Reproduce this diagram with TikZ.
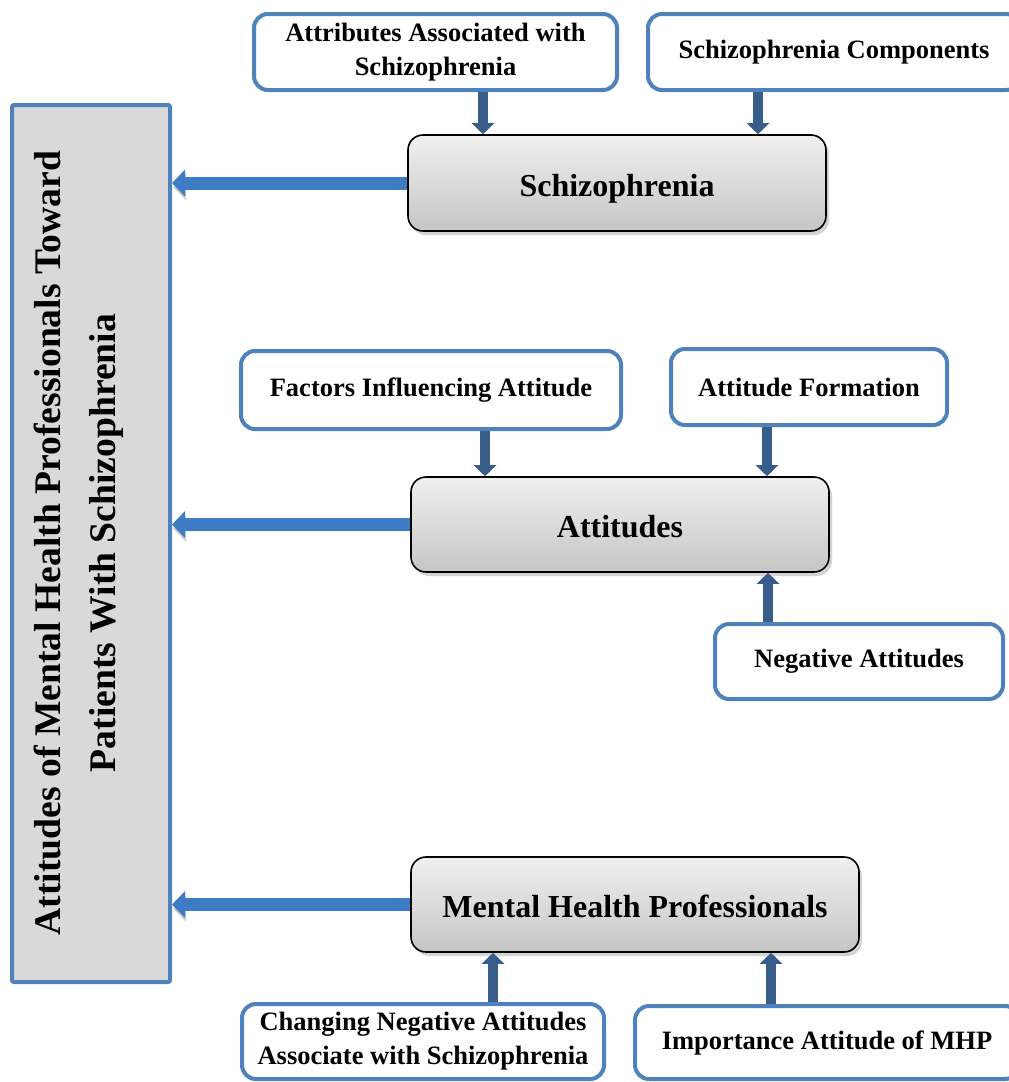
\documentclass[tikz,border=0pt]{standalone}
\usepackage{fontspec}
\setmainfont{Liberation Serif}
\usetikzlibrary{arrows.meta,shadows}
\definecolor{bborder}{HTML}{4F81BD}
\definecolor{sarrow}{HTML}{385D8A}
\definecolor{barrow}{HTML}{3D7BC4}
\definecolor{leftfill}{HTML}{D9D9D9}
\begin{document}
\begin{tikzpicture}[x=1pt,y=-1pt,
  smallbox/.style={draw=bborder,line width=4pt,rounded corners=14pt,fill=white,
    align=center,inner sep=0pt,font=\fontsize{26.5}{34}\selectfont\bfseries},
  mainbox/.style={draw=black,line width=1.6pt,rounded corners=15pt,
    top color=gray!12,bottom color=gray!45,
    drop shadow={shadow xshift=3pt,shadow yshift=-4pt,opacity=0.35},
    text height=26pt,text depth=0pt,
    align=center,inner sep=0pt,font=\fontsize{32}{38}\selectfont\bfseries},
  leftbox/.style={draw=bborder,line width=4pt,rounded corners=2pt,fill=leftfill,inner sep=0pt},
  smallarrow/.style={draw=sarrow,line width=10pt,-{Triangle[width=22pt,length=11pt]}},
  bigarrow/.style={draw=barrow,line width=13pt,-{Triangle[width=26pt,length=13pt]},
    preaction={draw=black,opacity=0.18,transform canvas={shift={(1pt,-4pt)}}}}
]
\useasboundingbox (0,0) rectangle (1009,1082);
\clip (0,0) rectangle (1009,1082);
% left box
\node[leftbox,minimum width=158pt,minimum height=877pt] (left) at (91,543.5) {};
\node[rotate=90,align=center,font=\fontsize{37.6}{55}\selectfont\bfseries] (lefttext) at (79,543)
  {Attitudes of Mental Health Professionals Toward\\Patients With Schizophrenia};
% boxes
\node[smallbox,minimum width=363pt,minimum height=76pt] (attr) at (435.5,52) {Attributes Associated with\\Schizophrenia};
\node[smallbox,minimum width=372pt,minimum height=76pt] (comp) at (834,52) {Schizophrenia Components};
\node[mainbox,minimum width=418pt,minimum height=96pt] (schiz) at (617,183) {Schizophrenia};
\node[smallbox,minimum width=380pt,minimum height=78pt] (factors) at (431,390) {Factors Influencing Attitude};
\node[smallbox,minimum width=276pt,minimum height=76pt] (formation) at (809,387) {Attitude Formation};
\node[mainbox,minimum width=418pt,minimum height=95pt] (att) at (620,524.5) {Attitudes};
\node[smallbox,minimum width=288pt,minimum height=75pt] (neg) at (859,661.5) {Negative Attitudes};
\node[mainbox,minimum width=448pt,minimum height=95pt] (mhp) at (635,904.5) {Mental Health Professionals};
\node[smallbox,minimum width=362pt,minimum height=75pt] (chg) at (423,1041.5) {Changing Negative Attitudes\\Associate with Schizophrenia};
\node[smallbox,minimum width=384pt,minimum height=73pt] (imp) at (827,1042.5) {Importance Attitude of MHP};
% small arrows
\draw[smallarrow] (attr.south -| 483,0) -- (schiz.north -| 483,0);
\draw[smallarrow] (comp.south -| 758,0) -- (schiz.north -| 758,0);
\draw[smallarrow] (factors.south -| 485,0) -- (att.north -| 485,0);
\draw[smallarrow] (formation.south -| 767,0) -- (att.north -| 767,0);
\draw[smallarrow] (neg.north -| 768,0) -- (att.south -| 768,0);
\draw[smallarrow] (chg.north -| 493,0) -- (mhp.south -| 493,0);
\draw[smallarrow] (imp.north -| 771,0) -- (mhp.south -| 771,0);
% big arrows
\draw[bigarrow] (schiz.west) -- (schiz.west -| left.east);
\draw[bigarrow] (att.west) -- (att.west -| left.east);
\draw[bigarrow] (mhp.west) -- (mhp.west -| left.east);
\end{tikzpicture}
\end{document}
